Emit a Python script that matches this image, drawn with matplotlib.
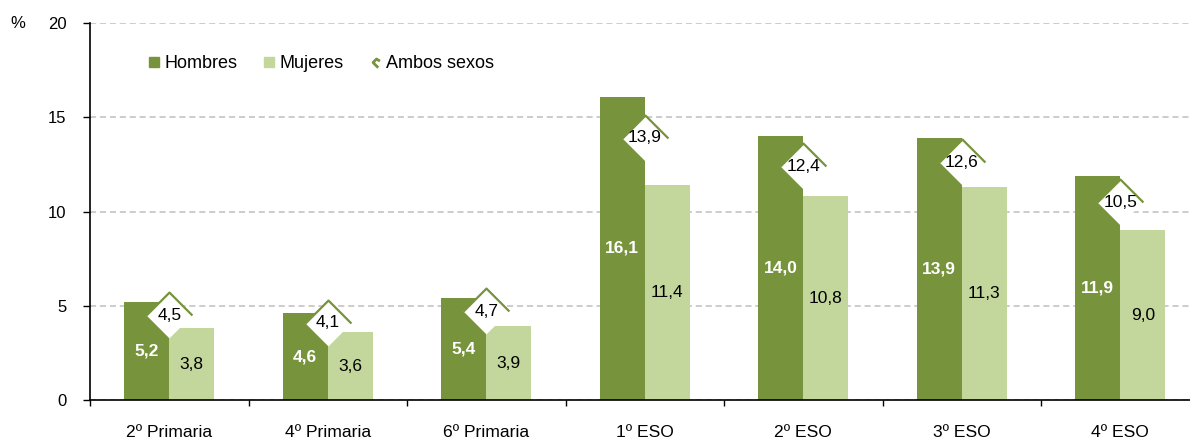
import matplotlib
matplotlib.use('Agg')
import matplotlib.pyplot as plt
import numpy as np
from matplotlib.path import Path
from matplotlib.lines import Line2D

categories = ['2º Primaria', '4º Primaria', '6º Primaria', '1º ESO', '2º ESO', '3º ESO', '4º ESO']
hombres = [5.2, 4.6, 5.4, 16.1, 14.0, 13.9, 11.9]
mujeres = [3.8, 3.6, 3.9, 11.4, 10.8, 11.3, 9.0]
ambos = [4.5, 4.1, 4.7, 13.9, 12.4, 12.6, 10.5]
yticks = [0, 5, 10, 15, 20]
series_names = ['Hombres', 'Mujeres', 'Ambos sexos']

C_H = '#77933C'
C_M = '#C3D69B'

plt.rcParams['font.family'] = ['Liberation Sans', 'DejaVu Sans']

W, H = 1190, 441
fig = plt.figure(figsize=(W / 100, H / 100), dpi=100)
ax = fig.add_axes([90 / W, 41 / H, (1199.5 - 90) / W, (400 - 23) / H])

x = np.arange(len(categories))
w = 0.284
ax.bar(x - w / 2, hombres, w, color=C_H, zorder=2)
ax.bar(x + w / 2, mujeres, w, color=C_M, zorder=2)

diamond = Path([(-1, 0), (0, 1), (1, 0), (0, -1), (-1, 0)],
               [Path.MOVETO, Path.LINETO, Path.LINETO, Path.LINETO, Path.CLOSEPOLY])
chevron = Path([(-1, 0), (0, 1), (1, 0)], [Path.MOVETO, Path.LINETO, Path.LINETO])
ax.plot(x, ambos, ls='none', marker=diamond, ms=33, mfc='white', mec='none', zorder=3)
ax.plot(x, ambos, ls='none', marker=chevron, ms=33, mfc='none', mec=C_H, mew=1.6, zorder=4)

def fmt(v):
    return f'{v:.1f}'.replace('.', ',')

for i in range(len(categories)):
    ax.text(x[i] - w / 2, hombres[i] / 2, fmt(hombres[i]), ha='center', va='center',
            color='white', fontweight='bold', fontsize=12.5, zorder=5)
    ax.text(x[i] + w / 2, mujeres[i] / 2, fmt(mujeres[i]), ha='center', va='center',
            color='black', fontsize=12.5, zorder=5)
    ax.text(x[i], ambos[i], fmt(ambos[i]), ha='center', va='center',
            color='black', fontsize=12.5, zorder=5)

ax.set_xlim(-0.5, len(categories) - 0.5)
ax.set_ylim(0, 20)
ax.set_yticks(yticks)
ax.set_yticklabels([str(t) for t in yticks])
ax.tick_params(axis='y', direction='out', length=5, width=1, pad=12, labelsize=12)

ax.set_xticks(np.arange(-0.5, len(categories), 1.0))
ax.set_xticklabels([])
ax.set_xticks(x, minor=True)
ax.set_xticklabels(categories, minor=True)
ax.tick_params(axis='x', which='major', direction='out', length=4, width=1)
ax.tick_params(axis='x', which='minor', length=0, pad=18, labelsize=12.6)

for s in ['top', 'right']:
    ax.spines[s].set_visible(False)
for s in ['left', 'bottom']:
    ax.spines[s].set_linewidth(1.2)
    ax.spines[s].set_zorder(6)

ax.yaxis.grid(True, color='#BFBFBF', ls=(0, (4, 2.5)), lw=1.1, zorder=0)
ax.set_axisbelow(True)

fig.text(18 / W, 1 - 23 / H, '%', ha='center', va='center', fontsize=12)

legend_mark = Path([(0.25, -0.75), (-0.5, 0.0), (0.0, 0.5), (0.5, 0.2)],
                   [Path.MOVETO, Path.LINETO, Path.LINETO, Path.LINETO])
handles = [
    Line2D([], [], ls='none', marker='s', ms=7.2, color=C_H),
    Line2D([], [], ls='none', marker='s', ms=7.2, color=C_M),
    Line2D([], [], ls='none', marker=legend_mark, ms=7.5, mfc='none', mec=C_H, mew=2),
]
ax.legend(handles, series_names, ncol=3, loc='center left',
          bbox_to_anchor=(148 / W, 1 - 64 / H), bbox_transform=fig.transFigure,
          frameon=False, fontsize=13, handlelength=0.65, handletextpad=0.25,
          columnspacing=1.45, borderpad=0, borderaxespad=0)

fig.savefig('out.png', dpi=100)
